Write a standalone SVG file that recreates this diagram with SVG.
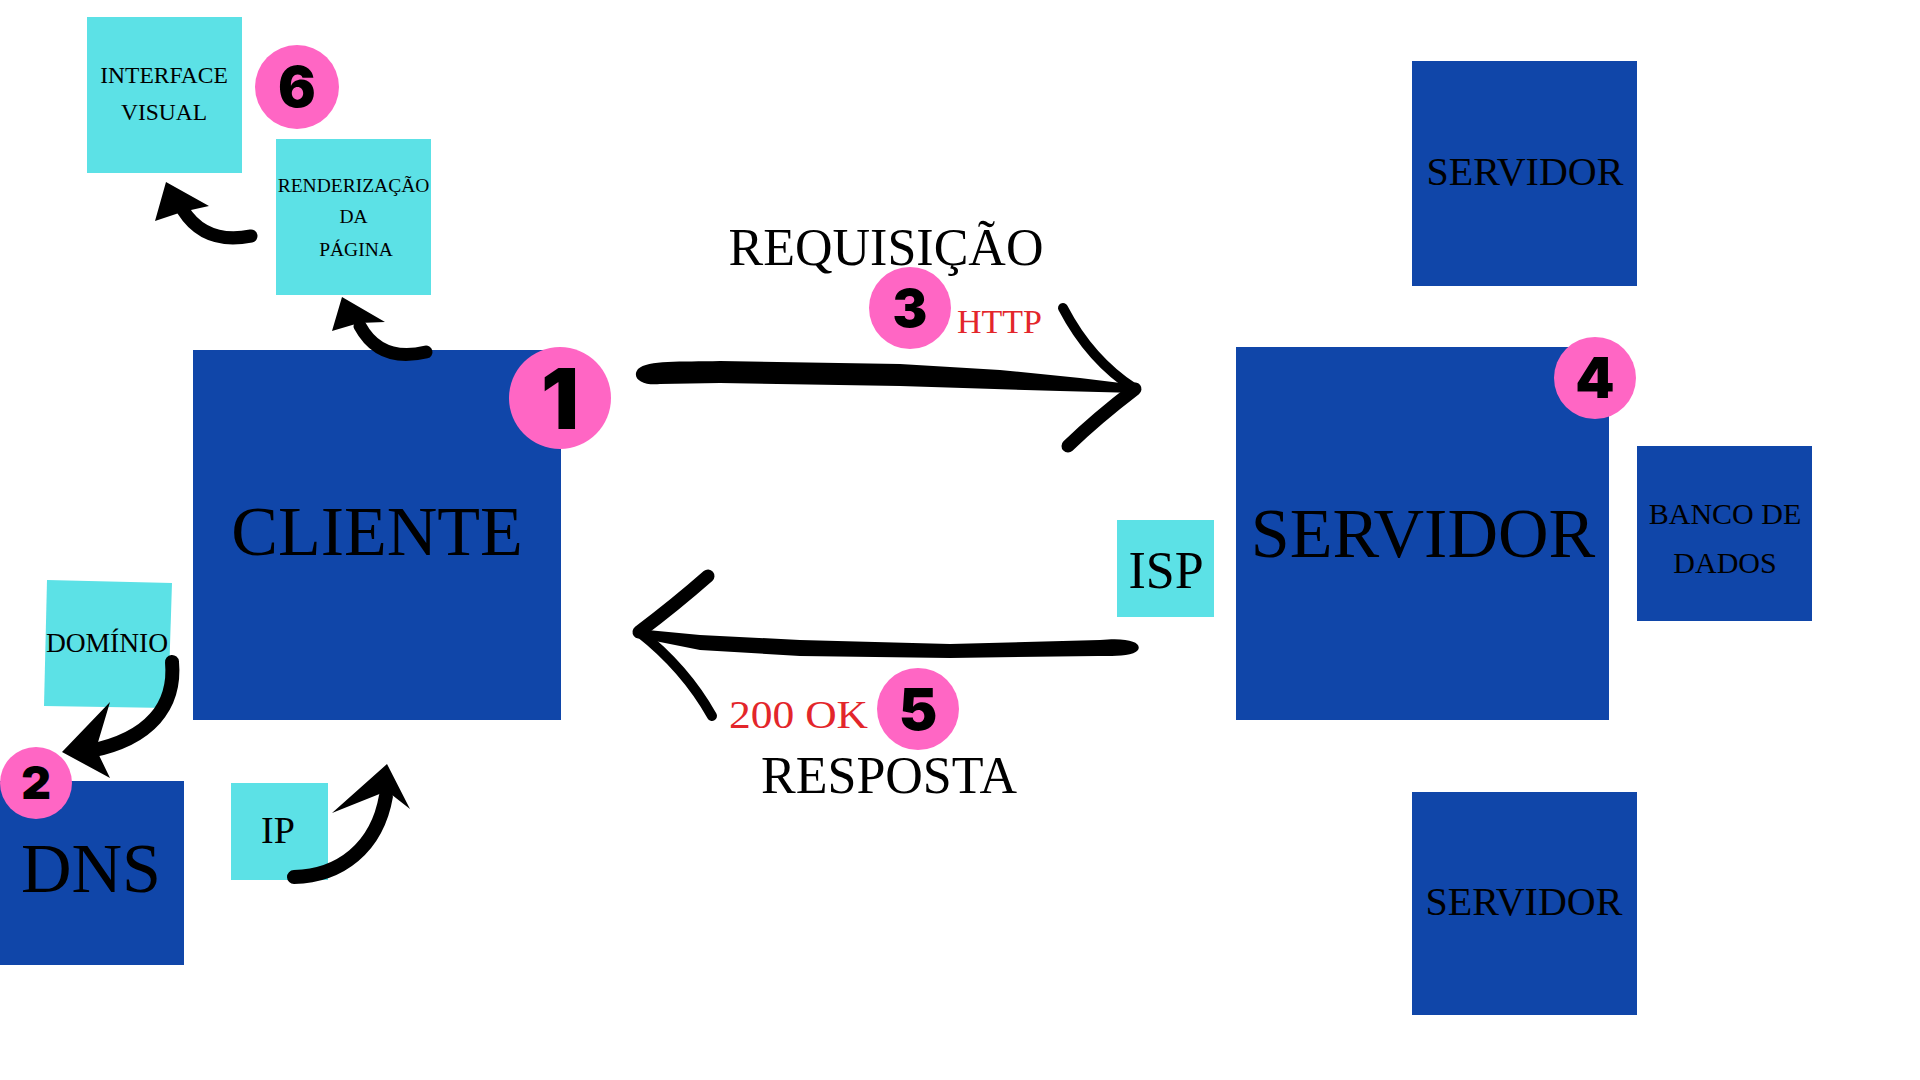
<svg xmlns="http://www.w3.org/2000/svg" width="1920" height="1080" viewBox="0 0 1920 1080">
<style>
.blue{fill:#1046A9}
.cyan{fill:#5CE1E6}
.pink{fill:#FF66C4}
.t{font-family:"Liberation Serif","Times New Roman",serif;fill:#000;text-anchor:middle}
.red{font-family:"Liberation Serif","Times New Roman",serif;fill:#E3262B}
.num{font-family:Inter,"DejaVu Sans",sans-serif;font-weight:900;fill:#000;text-anchor:middle}
.ink{fill:#000}
.shaft{fill:none;stroke:#000;stroke-linecap:round;stroke-linejoin:round}
</style>
<rect width="1920" height="1080" fill="#fff"/>

<g id="node-interface">
<rect class="cyan" x="87" y="17" width="155" height="156"/>
<text class="t" x="164" y="83" font-size="23.5">INTERFACE</text>
<text class="t" x="164" y="120" font-size="23.5">VISUAL</text>
</g>
<g id="badge-6">
<circle class="pink" cx="297" cy="87" r="42"/>
<text class="num" x="297" y="107" font-size="56">6</text>
</g>
<g id="node-renderizacao">
<rect class="cyan" x="276" y="139" width="155" height="156"/>
<text class="t" x="353.5" y="192" font-size="19.5">RENDERIZAÇÃO</text>
<text class="t" x="353.5" y="223" font-size="19.5">DA</text>
<text class="t" x="356" y="256" font-size="19.5">PÁGINA</text>
</g>
<g id="node-cliente">
<rect class="blue" x="193" y="350" width="368" height="370"/>
<text class="t" x="377" y="555" font-size="70">CLIENTE</text>
</g>
<g id="badge-1">
<circle class="pink" cx="560" cy="398" r="51"/>
<text class="num" x="560" y="429" font-size="84">1</text>
</g>
<g id="node-dominio">
<polygon class="cyan" points="47,580 172,583 168,708 44,706"/>
<text class="t" x="107" y="652" font-size="27.5">DOMÍNIO</text>
</g>
<g id="node-dns">
<rect class="blue" x="0" y="781" width="184" height="184"/>
<text class="t" x="91" y="892" font-size="70">DNS</text>
</g>
<g id="badge-2">
<circle class="pink" cx="36" cy="783" r="36"/>
<text class="num" x="36" y="799" font-size="46">2</text>
</g>
<g id="node-ip">
<rect class="cyan" x="231" y="783" width="97" height="97"/>
<text class="t" x="278" y="843" font-size="38">IP</text>
</g>
<g id="label-requisicao">
<text class="t" x="886" y="265" font-size="52">REQUISIÇÃO</text>
</g>
<g id="badge-3">
<circle class="pink" cx="910" cy="308" r="41"/>
<text class="num" x="910" y="327" font-size="52">3</text>
<text class="red" x="957" y="333" font-size="34">HTTP</text>
</g>
<g id="badge-5">
<text class="red" x="729" y="728" font-size="40" textLength="139" lengthAdjust="spacingAndGlyphs">200 OK</text>
<circle class="pink" cx="918" cy="709" r="41"/>
<text class="num" x="918" y="730" font-size="58">5</text>
</g>
<g id="label-resposta">
<text class="t" x="889" y="793" font-size="52">RESPOSTA</text>
</g>
<g id="node-isp">
<rect class="cyan" x="1117" y="520" width="97" height="97"/>
<text class="t" x="1166" y="588" font-size="52">ISP</text>
</g>
<g id="node-servidor">
<rect class="blue" x="1236" y="347" width="373" height="373"/>
<text class="t" x="1423" y="557" font-size="70">SERVIDOR</text>
</g>
<g id="badge-4">
<circle class="pink" cx="1595" cy="378" r="41"/>
<text class="num" x="1595" y="398" font-size="56">4</text>
</g>
<g id="node-banco">
<rect class="blue" x="1637" y="446" width="175" height="175"/>
<text class="t" x="1725" y="524" font-size="30">BANCO DE</text>
<text class="t" x="1725" y="573" font-size="30">DADOS</text>
</g>
<g id="node-servidor-top">
<rect class="blue" x="1412" y="61" width="225" height="225"/>
<text class="t" x="1525" y="185" font-size="40">SERVIDOR</text>
</g>
<g id="node-servidor-bottom">
<rect class="blue" x="1412" y="792" width="225" height="223"/>
<text class="t" x="1524" y="915" font-size="40">SERVIDOR</text>
</g>

<g id="connectors">
<!-- requisição arrow -->
<path class="ink" d="M638,369 C648,360 680,362 720,361 L900,364 L1000,370 L1080,378 L1137,385 L1137,393 L1060,391 L900,386 L720,383 L660,384 C642,386 631,378 638,369 Z"/>
<path class="shaft" stroke-width="10" d="M1063,308 Q1090,360 1135,389"/>
<path class="shaft" stroke-width="13" d="M1135,389 Q1097,418 1068,446"/>
<!-- resposta arrow -->
<path class="ink" d="M637,629 L700,635 L800,640 L950,644 L1100,640 C1130,637 1142,643 1138,650 C1133,657 1110,656 1098,656 L950,658 L800,656 L700,650 L640,638 Z"/>
<path class="shaft" stroke-width="13" d="M708,576 Q675,605 639,632"/>
<path class="shaft" stroke-width="10" d="M639,632 Q685,668 712,716"/>
<!-- renderização -> interface -->
<path class="shaft" stroke-width="13" d="M251,236 Q205,245 183,210"/>
<polygon class="ink" points="166,182 155,221 182,212 209,206"/>
<!-- cliente -> renderização -->
<path class="shaft" stroke-width="13" d="M426,352 Q380,363 360,326"/>
<polygon class="ink" points="342,297 332,331 359,323 385,322"/>
<!-- domínio -> dns -->
<path class="shaft" stroke-width="14" d="M172,662 C176,706 150,739 90,751"/>
<polygon class="ink" points="62,752 110,702 96,749 110,778"/>
<!-- ip -> cliente -->
<path class="shaft" stroke-width="14" d="M294,877 C340,876 377,848 386,796"/>
<polygon class="ink" points="387,764 332,813 387,791 410,809"/>
</g>
</svg>
